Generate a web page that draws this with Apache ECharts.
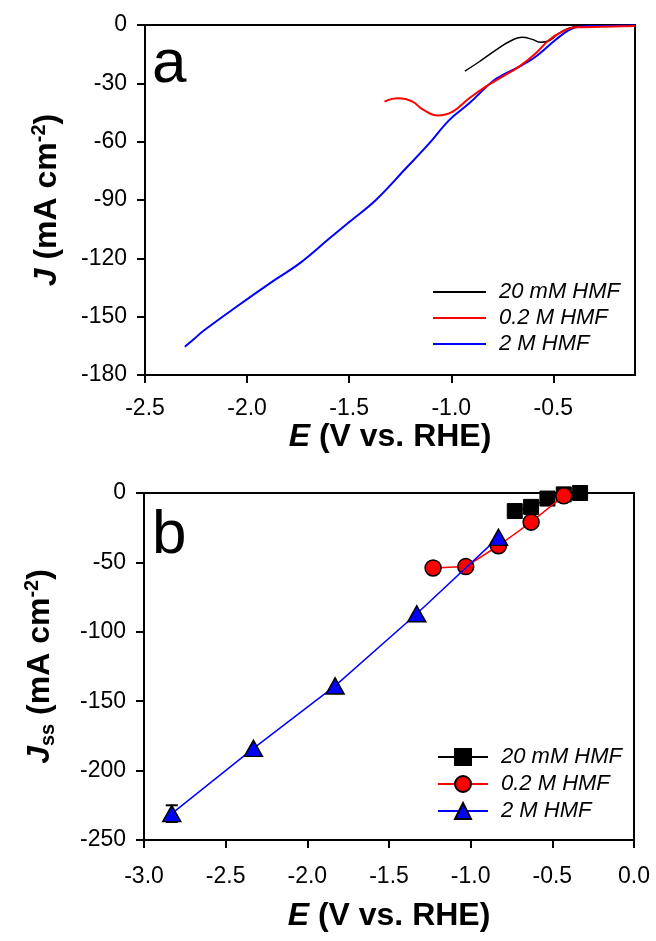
<!DOCTYPE html>
<html>
<head>
<meta charset="utf-8">
<script src="https://cdn.jsdelivr.net/npm/echarts@6/dist/echarts.min.js"></script>
<style>
  html, body { margin: 0; padding: 0; background: #fff; }
  #chart { width: 656px; height: 941px; }
</style>
</head>
<body>
<div id="chart"></div>
<script>
// Panel a: linear sweep voltammograms (E in V vs. RHE, J in mA cm-2)
const lsvE20mM = [-0.933, -0.863, -0.782, -0.717, -0.652, -0.603, -0.562, -0.521, -0.473, -0.424, -0.375, -0.26, -0.10];
const lsvJ20mM = [-23.7, -18.9, -12.9, -8.6, -6.3, -7.4, -8.9, -8.1, -4.3, -1.7, -0.5, -0.3, -0.2];

const lsvE02M = [-1.327, -1.290, -1.254, -1.189, -1.140, -1.067, -0.993, -0.912, -0.831, -0.749, -0.668, -0.587, -0.521, -0.456, -0.391, -0.26, -0.10];
const lsvJ02M = [-39.4, -38.0, -37.7, -39.4, -43.4, -46.6, -44.6, -37.7, -31.7, -26.6, -21.4, -14.6, -7.7, -3.4, -1.2, -0.9, -0.5];

const lsvE2M = [-2.305, -2.260, -2.215, -2.052, -1.873, -1.743, -1.596, -1.498, -1.369, -1.222, -1.108, -1.010, -0.912, -0.798, -0.733, -0.652, -0.587, -0.490, -0.424, -0.375, -0.26, -0.10];
const lsvJ2M = [-165.5, -161.5, -157.4, -144.9, -131.7, -122.6, -109.7, -101.2, -90.0, -73.7, -60.9, -48.9, -40.3, -29.1, -24.9, -20.6, -16.3, -7.7, -2.6, -0.9, -0.5, -0.3];

// Panel b: steady-state current densities
const ssE20mM = [-0.73, -0.63, -0.53, -0.43, -0.33];
const ssJ20mM = [-13, -10, -4, -1, 0];

const ssE02M = [-1.23, -1.03, -0.83, -0.63, -0.43];
const ssJ02M = [-54, -53, -38, -21, -2];

const ssE2M = [-2.83, -2.33, -1.83, -1.33, -0.83];
const ssJ2M = [-231, -184, -139, -87, -32];
const ssErr2M = [6, 0, 0, 0, 0];

const seriesNames = ['20 mM HMF', '0.2 M HMF', '2 M HMF'];
const lineColors = ['#000000', '#ff0000', '#0000ff'];
const xTicksA = { min: -2.5, max: -0.1, step: 0.5 };
const yTicksA = { min: -180, max: 0, step: 30 };
const xTicksB = { min: -3.0, max: 0.0, step: 0.5 };
const yTicksB = { min: -250, max: 0, step: 50 };

const pairs = (xs, ys) => xs.map((x, i) => [x, ys[i]]);

const FONT = 'Liberation Sans';
const tickFont = { fontFamily: FONT, fontSize: 23, color: '#000' };

function valueAxis(gridIndex, ticks, extra) {
  return Object.assign({
    type: 'value',
    gridIndex,
    min: ticks.min,
    max: ticks.max,
    interval: ticks.step,
    splitLine: { show: false },
    axisLine: { show: true, onZero: false, lineStyle: { color: '#000', width: 2 } },
    axisTick: { show: true, length: 8, lineStyle: { color: '#000', width: 2 } },
    axisLabel: Object.assign({ margin: 18 }, tickFont)
  }, extra);
}

const titleRich = {
  i: { fontFamily: FONT, fontSize: 32, fontWeight: 'bold', fontStyle: 'italic', color: '#000', lineHeight: 36 },
  n: { fontFamily: FONT, fontSize: 32, fontWeight: 'bold', color: '#000', lineHeight: 36 },
  sup: { fontFamily: FONT, fontSize: 20, fontWeight: 'bold', color: '#000', verticalAlign: 'top', lineHeight: 20 },
  sub: { fontFamily: FONT, fontSize: 20, fontWeight: 'bold', color: '#000', verticalAlign: 'bottom', lineHeight: 20 }
};

const legendText = { fontFamily: FONT, fontSize: 22, fontStyle: 'italic', color: '#000', lineHeight: 22, padding: [0, 0, 0, 8] };

const chart = echarts.init(document.getElementById('chart'), null, { renderer: 'canvas' });

chart.setOption({
  animation: false,
  backgroundColor: '#fff',
  grid: [
    { left: 145, top: 25, right: 21, height: 350, show: true, borderColor: '#000', borderWidth: 2, backgroundColor: 'transparent' },
    { left: 144, top: 493, right: 22, height: 347, show: true, borderColor: '#000', borderWidth: 2, backgroundColor: 'transparent' }
  ],
  xAxis: [
    valueAxis(0, xTicksA, {
      name: '{i|E}{n| (V vs. RHE)}', nameLocation: 'middle', nameGap: 44,
      nameTextStyle: { rich: titleRich },
      axisLabel: Object.assign({ margin: 22, showMaxLabel: false, formatter: v => v.toFixed(1) }, tickFont)
    }),
    valueAxis(1, xTicksB, {
      name: '{i|E}{n| (V vs. RHE)}', nameLocation: 'middle', nameGap: 58,
      nameTextStyle: { rich: titleRich },
      axisLabel: Object.assign({ margin: 25, formatter: v => v.toFixed(1) }, tickFont)
    })
  ],
  yAxis: [
    valueAxis(0, yTicksA, {
      name: '{i|J}{n| (mA cm}{sup|-2}{n|)}', nameLocation: 'middle', nameGap: 80, nameRotate: 90,
      nameTextStyle: { rich: titleRich }
    }),
    valueAxis(1, yTicksB, {
      name: '{i|J}{sub|ss}{n| (mA cm}{sup|-2}{n|)}', nameLocation: 'middle', nameGap: 86, nameRotate: 90,
      nameTextStyle: { rich: titleRich }
    })
  ],
  legend: [
    {
      data: seriesNames.map((n, i) => ({ name: n, icon: 'rect', itemStyle: { color: lineColors[i] } })),
      orient: 'vertical', left: 433, top: 281, padding: 0,
      itemWidth: 53, itemHeight: 2, itemGap: 4,
      textStyle: legendText,
      selectedMode: false
    },
    {
      data: seriesNames.map(n => 'b:' + n),
      formatter: n => n.slice(2),
      orient: 'vertical', left: 437, top: 746, padding: 0,
      itemWidth: 50, itemHeight: 20, itemGap: 5,
      textStyle: legendText,
      selectedMode: false
    }
  ],
  graphic: [
    { type: 'text', left: 152, top: 34, style: { text: 'a', font: '62px "Liberation Sans"', fill: '#000' } },
    { type: 'text', left: 152, top: 505, style: { text: 'b', font: '62px "Liberation Sans"', fill: '#000' } }
  ],
  series: [
    { name: seriesNames[0], type: 'line', xAxisIndex: 0, yAxisIndex: 0, data: pairs(lsvE20mM, lsvJ20mM), smooth: 0.4, symbol: 'none', lineStyle: { color: lineColors[0], width: 1.5 }, itemStyle: { color: lineColors[0] }, z: 2 },
    { name: seriesNames[1], type: 'line', xAxisIndex: 0, yAxisIndex: 0, data: pairs(lsvE02M, lsvJ02M), smooth: 0.4, symbol: 'none', lineStyle: { color: lineColors[1], width: 2 }, itemStyle: { color: lineColors[1] }, z: 4 },
    { name: seriesNames[2], type: 'line', xAxisIndex: 0, yAxisIndex: 0, data: pairs(lsvE2M, lsvJ2M), smooth: 0.4, symbol: 'none', lineStyle: { color: lineColors[2], width: 2 }, itemStyle: { color: lineColors[2] }, z: 3 },

    {
      type: 'custom', xAxisIndex: 1, yAxisIndex: 1, z: 2, silent: true,
      data: ssE2M.map((x, i) => [x, ssJ2M[i], ssErr2M[i]]).filter(d => d[2] > 0),
      renderItem: (params, api) => {
        const x = api.value(0), y = api.value(1), e = api.value(2);
        const top = api.coord([x, y + e]), bot = api.coord([x, y - e]);
        const w = 6;
        const st = { stroke: '#000', lineWidth: 2 };
        return { type: 'group', children: [
          { type: 'line', shape: { x1: top[0], y1: top[1], x2: bot[0], y2: bot[1] }, style: st },
          { type: 'line', shape: { x1: top[0] - w, y1: top[1], x2: top[0] + w, y2: top[1] }, style: st },
          { type: 'line', shape: { x1: bot[0] - w, y1: bot[1], x2: bot[0] + w, y2: bot[1] }, style: st }
        ] };
      }
    },
    { name: 'b:' + seriesNames[0], type: 'line', xAxisIndex: 1, yAxisIndex: 1, data: pairs(ssE20mM, ssJ20mM), symbol: 'rect', symbolSize: 15, lineStyle: { color: lineColors[0], width: 1.5 }, itemStyle: { color: '#000', borderColor: '#000', borderWidth: 1 }, z: 3 },
    { name: 'b:' + seriesNames[1], type: 'line', xAxisIndex: 1, yAxisIndex: 1, data: pairs(ssE02M, ssJ02M), symbol: 'circle', symbolSize: 16, lineStyle: { color: lineColors[1], width: 1.5 }, itemStyle: { color: '#ff0000', borderColor: '#000', borderWidth: 1.5 }, z: 4 },
    { name: 'b:' + seriesNames[2], type: 'line', xAxisIndex: 1, yAxisIndex: 1, data: pairs(ssE2M, ssJ2M), symbol: 'triangle', symbolSize: [18, 16], lineStyle: { color: lineColors[2], width: 1.5 }, itemStyle: { color: '#0000ff', borderColor: '#000', borderWidth: 1.5 }, z: 5 }
  ]
});
</script>
</body>
</html>
